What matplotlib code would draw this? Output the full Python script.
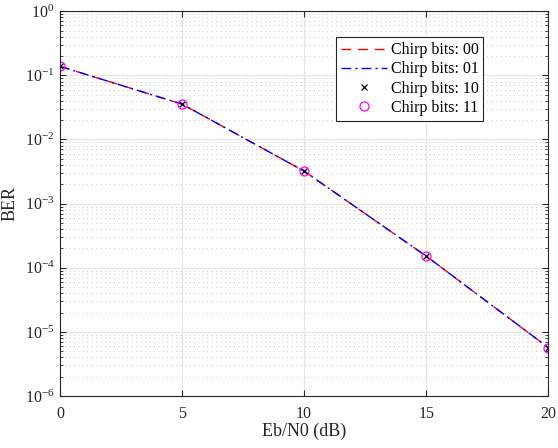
import matplotlib

matplotlib.use("Agg")
import matplotlib.pyplot as plt
from matplotlib.ticker import LogLocator, NullFormatter, FixedLocator

plt.rcParams["font.family"] = ["Liberation Serif", "DejaVu Serif"]
plt.rcParams["mathtext.fontset"] = "custom"
plt.rcParams["mathtext.rm"] = "Liberation Serif"

ebn0_db = [0, 5, 10, 15, 20]
ber_00 = [0.138, 0.0356, 0.00321, 1.52e-4, 5.7e-6]
ber_01 = [0.138, 0.0356, 0.00321, 1.52e-4, 5.7e-6]
ber_10 = [0.138, 0.0356, 0.00321, 1.52e-4, 5.7e-6]
ber_11 = [0.138, 0.0356, 0.00321, 1.52e-4, 5.7e-6]
x_ticks = [0, 5, 10, 15, 20]

fig = plt.figure(figsize=(5.58, 4.48), dpi=100)
ax = fig.add_axes([0.1075, 0.116, 0.875, 0.859])

ax.semilogy(ebn0_db, ber_00, color="red", linestyle=(0, (7, 5)), linewidth=1.0, label="Chirp bits: 00")
ax.semilogy(ebn0_db, ber_01, color="blue", linestyle=(0, (7, 3, 1.5, 3)), linewidth=1.0,
            label="Chirp bits: 01")
ax.semilogy(ebn0_db, ber_10, color="black", linestyle="none", marker="x",
            markersize=4.5, markeredgewidth=0.9, label="Chirp bits: 10")
ax.semilogy(ebn0_db, ber_11, color="magenta", linestyle="none", marker="o",
            markersize=6.5, markerfacecolor="none", markeredgewidth=0.9, label="Chirp bits: 11")

ax.set_xlim(0, 20)
ax.set_ylim(1e-6, 1e0)
ax.xaxis.set_major_locator(FixedLocator(x_ticks))
ax.yaxis.set_major_locator(LogLocator(base=10, numticks=10))
ax.yaxis.set_minor_locator(LogLocator(base=10, subs=range(2, 10), numticks=20))
ax.yaxis.set_minor_formatter(NullFormatter())

ax.grid(True, which="major", color="#e6e6e6", linestyle="-", linewidth=0.8)
ax.grid(True, which="minor", axis="y", color="#d0d0d0", linestyle=(0, (1, 3)), linewidth=0.8)
ax.set_axisbelow(True)

for spine in ax.spines.values():
    spine.set_color("#262626")
    spine.set_linewidth(0.8)
ax.tick_params(which="both", direction="in", top=True, right=True, colors="#262626",
               labelsize=11.5, labelcolor="#262626")
ax.tick_params(which="major", length=4)
ax.tick_params(which="minor", length=2)
ax.tick_params(axis="x", pad=7)
ax.tick_params(axis="y", pad=4)

ax.set_xlabel("Eb/N0 (dB)", fontsize=13, color="#262626", labelpad=1)
ax.set_ylabel("BER", fontsize=13, color="#262626", labelpad=4)

legend = ax.legend(loc="upper right", bbox_to_anchor=(0.867, 0.932), fontsize=11.5,
                   frameon=True, fancybox=False, edgecolor="#262626", framealpha=1,
                   handlelength=2.9, handletextpad=0.2, borderpad=0.3, labelspacing=0.2,
                   borderaxespad=0)
legend.get_frame().set_linewidth(0.8)

fig.savefig("out.png", dpi=100)
